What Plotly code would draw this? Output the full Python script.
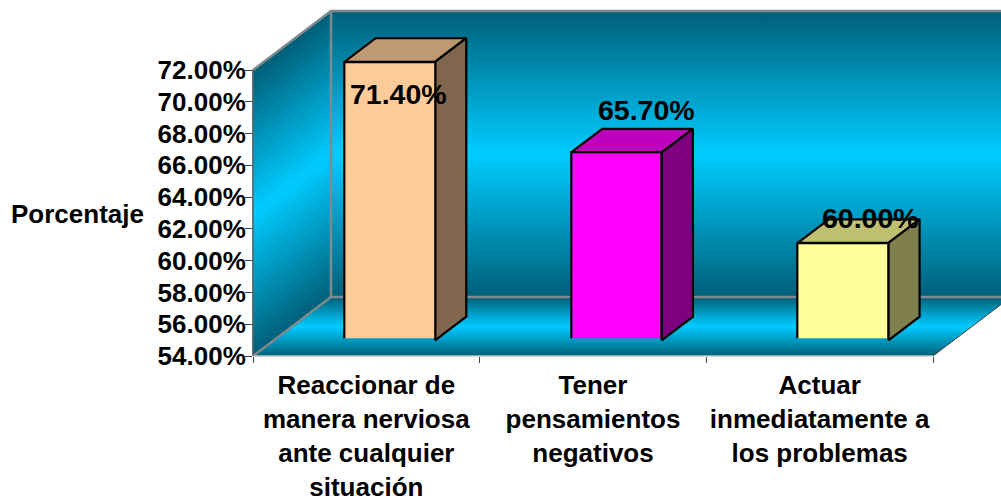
import plotly.graph_objects as go

# ---- data ----
categories = ["Reaccionar de<br>manera nerviosa<br>ante cualquier<br>situación",
              "Tener<br>pensamientos<br>negativos",
              "Actuar<br>inmediatamente a<br>los problemas"]
values = [71.4, 65.7, 60.0]
face_colors = ["#FFCC99", "#FF00FF", "#FFFF99"]
top_colors = ["#BF9972", "#BF00BF", "#BFBF72"]
side_colors = ["#7F664C", "#7F007F", "#7F7F4C"]
y_ticks = [54, 56, 58, 60, 62, 64, 66, 68, 70, 72]
label_shift_x = [9, 30, 27]
label_shift_y = [-32, 42, 25]

# ---- layout geometry (pixels) ----
W, H = 1001, 498
L, R, B, T = 253, 933, 356, 70
DPX, DPY = 78, 59          # full depth of the box
BAR_D0, BAR_D = 0.30, 0.40  # bar front position / bar depth (in box depth units)
BAR_W = 0.40
YMIN, YMAX = 54, 72
XPU = (R - L) / 3
YPU = (B - T) / (YMAX - YMIN)
DX, DY = DPX / XPU, DPY / YPU
BAR_BASE = YMIN - 2 / YPU

DARK = (0, 95, 120)
BRIGHT = (0, 204, 255)
rgb = lambda c: "rgb(%d,%d,%d)" % c
def grad(t):
    u = abs(2 * t - 1)
    return tuple(round(BRIGHT[i] + (DARK[i] - BRIGHT[i]) * u) for i in range(3))
GRAD_SCALE = [[0, rgb(DARK)], [0.5, rgb(BRIGHT)], [1, rgb(DARK)]]

fig = go.Figure()
def poly(xs, ys, **kw):
    fig.add_trace(go.Scatter(x=xs, y=ys, mode="lines", hoverinfo="skip",
                             showlegend=False, **kw))

# back wall
poly([DX, 3 + DX, 3 + DX, DX, DX], [YMIN + DY, YMIN + DY, YMAX + DY, YMAX + DY, YMIN + DY],
     fill="toself", line=dict(width=0),
     fillgradient=dict(type="vertical", colorscale=GRAD_SCALE))
# floor
poly([0, 3, 3 + DX, DX, 0], [YMIN, YMIN, YMIN + DY, YMIN + DY, YMIN],
     fill="toself", line=dict(width=0),
     fillgradient=dict(type="vertical", colorscale=GRAD_SCALE))
# left wall (gradient follows the shear of the wall)
N = 70
span = YMAX - YMIN
for i in range(N):
    a, b = YMIN + span * i / N, YMIN + span * (i + 1) / N
    c = rgb(grad((i + 0.5) / N))
    poly([0, DX, DX, 0, 0], [a, a + DY, b + DY, b, a], fill="toself",
         fillcolor=c, line=dict(width=1.5, color=c))
# edges of the box
EDGE = "#7f8a8e"
poly([0, DX, 3 + DX], [YMAX, YMAX + DY, YMAX + DY], line=dict(color=EDGE, width=2.5))
poly([DX, DX], [YMIN + DY, YMAX + DY], line=dict(color=EDGE, width=2.5))
poly([0, DX, 3 + DX], [YMIN, YMIN + DY, YMIN + DY], line=dict(color=EDGE, width=2.5))
poly([0, 0], [YMIN, YMAX], line=dict(color="#5a6468", width=1.5))
poly([0, 3], [YMIN, YMIN], line=dict(color="#c0c8cc", width=1.5))
poly([3, 3 + DX], [YMIN, YMIN + DY], line=dict(color="#404040", width=1))

centers = [0.5, 1.5, 2.5]
hw = BAR_W / 2
ox, oy = BAR_D0 * DX, BAR_D0 * DY
# top and side faces of the bars
for c, v, tc, sc in zip(centers, values, top_colors, side_colors):
    ddx, ddy = BAR_D * DX, BAR_D * DY
    poly([ox + c - hw, ox + c + hw, ox + c + hw + ddx, ox + c - hw + ddx, ox + c - hw],
         [oy + v, oy + v, oy + v + ddy, oy + v + ddy, oy + v], fill="toself", fillcolor=tc,
         line=dict(color="black", width=2.2))
    poly([ox + c + hw, ox + c + hw + ddx, ox + c + hw + ddx, ox + c + hw, ox + c + hw],
         [oy + BAR_BASE, oy + BAR_BASE + ddy, oy + v + ddy, oy + v, oy + BAR_BASE], fill="toself",
         fillcolor=sc, line=dict(color="black", width=2.2))

# invisible carrier for the tick axes
fig.add_trace(go.Scatter(x=centers, y=values, mode="markers", marker=dict(opacity=0),
                         hoverinfo="skip", showlegend=False, xaxis="x2", yaxis="y2"))
# bar fronts, in a plane shifted into the box depth
fig.add_trace(go.Bar(x=centers, y=[v - BAR_BASE for v in values], base=BAR_BASE, width=BAR_W,
                     marker=dict(color=face_colors, line=dict(color="black", width=2.2)),
                     cliponaxis=False, hoverinfo="skip", showlegend=False,
                     xaxis="x3", yaxis="y3"))

FONT = "Liberation Sans, Arial, sans-serif"
annotations = [dict(x=c, y=v, xref="x3", yref="y3", text="<b>%.2f%%</b>" % v, showarrow=False,
                    xshift=sx, yshift=sy, font=dict(family=FONT, size=28.5, color="black"))
               for c, v, sx, sy in zip(centers, values, label_shift_x, label_shift_y)]
annotations.append(dict(x=77 / W, y=1 - 214 / H, xref="paper", yref="paper", xanchor="center",
                        text="<b>Porcentaje</b>", showarrow=False,
                        font=dict(family=FONT, size=26, color="black")))

hidden = dict(visible=False, showgrid=False, zeroline=False, automargin=False)
fig.update_layout(
    width=W, height=H, margin=dict(l=0, r=0, t=0, b=0, pad=0), autosize=False,
    paper_bgcolor="white", plot_bgcolor="rgba(0,0,0,0)", showlegend=False, bargap=0,
    annotations=annotations,
    # canvas axes: whole picture, same scale as the front plane of the box
    xaxis=dict(domain=[0, 1], range=[-L / XPU, (W - L) / XPU], **hidden),
    yaxis=dict(domain=[0, 1], range=[YMIN - (H - B) / YPU, YMIN + B / YPU], **hidden),
    # visible axes: front plane of the box
    xaxis2=dict(domain=[L / W, R / W], range=[0, 3], anchor="y2", tickvals=centers, ticktext=categories,
                ticks="outside", ticklen=6, tickcolor="rgba(0,0,0,0)", showgrid=False,
                zeroline=False, showline=False, automargin=False, tickangle=0,
                tickfont=dict(family=FONT, size=26, color="black", weight="bold"),
                minor=dict(tickvals=[0, 1, 2, 3], ticks="outside", ticklen=6, tickcolor="#404040",
                           tickwidth=1, showgrid=False)),
    yaxis2=dict(domain=[(H - B) / H, (H - T) / H], range=[YMIN, YMAX], anchor="x2", tickvals=y_ticks,
                ticktext=["%.2f%%" % t for t in y_ticks], ticks="outside", ticklen=7,
                ticklabelstandoff=-6,
                tickcolor="#404040", tickwidth=1, showgrid=False, zeroline=False, showline=False,
                automargin=False,
                tickfont=dict(family=FONT, size=26, color="black", weight="bold")),
    # bar plane
    xaxis3=dict(domain=[(L + BAR_D0 * DPX) / W, (R + BAR_D0 * DPX) / W], range=[0, 3], anchor="y3", **hidden),
    yaxis3=dict(domain=[(H - B + BAR_D0 * DPY) / H, (H - T + BAR_D0 * DPY) / H], range=[YMIN, YMAX],
                anchor="x3", **hidden),
)
fig.write_html("out.html", post_script="document.body.style.margin='0';document.body.style.overflow='hidden';",
               config=dict(displayModeBar=False))
